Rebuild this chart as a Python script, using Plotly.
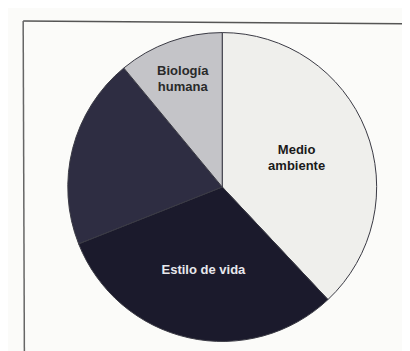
import plotly.graph_objects as go

categories = ["Medio ambiente", "Estilo de vida", "Sistema sanitario", "Biología humana"]
values = [38, 31, 20, 11]
slice_text = ["<b>Medio<br>ambiente</b>", "<b>Estilo de vida</b>", "", "<b>Biología<br>humana</b>"]

colors = ["#efefec", "#1b1a2c", "#2e2d42", "#c4c4c8"]
text_colors = ["#1a1a1a", "#e8e8ec", "#ffffff", "#2a2a2a"]

fig = go.Figure(go.Pie(
    labels=categories,
    values=values,
    text=slice_text,
    textinfo="text",
    textposition="inside",
    insidetextorientation="horizontal",
    sort=False,
    direction="clockwise",
    rotation=0,
    marker=dict(colors=colors, line=dict(color="#3a3a44", width=1)),
    textfont=dict(family="Liberation Sans, Arial, sans-serif", size=13, color=text_colors),
    hoverinfo="label+percent",
    domain=dict(x=[0.145, 0.900], y=[0.050, 0.930]),
    showlegend=False,
))

fig.update_layout(
    width=410, height=351,
    margin=dict(l=0, r=0, t=0, b=0),
    paper_bgcolor="#fbfbf9",
    plot_bgcolor="#fbfbf9",
    uniformtext=dict(minsize=11, mode="show"),
    shapes=[
        dict(type="line", xref="paper", yref="paper", x0=0.037, y0=0.963, x1=1.0, y1=0.955,
             line=dict(color="#555555", width=1.5)),
        dict(type="line", xref="paper", yref="paper", x0=0.037, y0=0.963, x1=0.040, y1=0.0,
             line=dict(color="#666666", width=1.5)),
    ],
)

fig.write_html("out.html")
